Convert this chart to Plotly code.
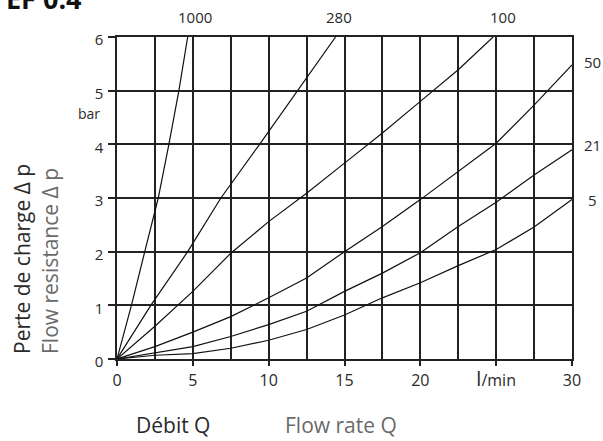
import plotly.graph_objects as go

# ---- data ----
series_names = ["1000", "280", "100", "50", "21", "5"]

q_1000 = [0, 0.95, 1.83, 2.72, 3.42, 4.08, 4.66]
dp_1000 = [0, 1, 2, 3, 4, 5, 6]

q_280 = [0, 2.23, 4.66, 6.85, 9.4, 11.9, 14.41]
dp_280 = [0, 1, 2, 3, 4, 5, 6]

q_100 = [0, 2.5, 5, 7.5, 10, 12.5, 15, 17.5, 20, 22.5, 24.8]
dp_100 = [0, 0.61, 1.26, 1.97, 2.56, 3.09, 3.65, 4.21, 4.80, 5.39, 6.0]

q_grid = [0, 2.5, 5, 7.5, 10, 12.5, 15, 17.5, 20, 22.5, 25, 27.5, 30]
dp_50 = [0, 0.23, 0.50, 0.79, 1.14, 1.51, 2.00, 2.47, 2.97, 3.49, 4.02, 4.73, 5.48]
dp_21 = [0, 0.11, 0.23, 0.42, 0.64, 0.89, 1.26, 1.60, 1.98, 2.47, 2.92, 3.43, 3.90]
dp_5 = [0, 0.07, 0.10, 0.20, 0.35, 0.55, 0.82, 1.14, 1.42, 1.74, 2.04, 2.46, 2.97]

x_tickvals = [0, 5, 10, 15, 20, 25, 30]
x_ticktext = ["0", "5", "10", "15", "20",
              "<span style='font-size:20px'>l</span>/min", "30"]
y_tickvals = [0, 1, 2, 3, 4, 5, 6]

title_text = "EF 0.4"
ytitle_fr = "Perte de charge Δ p"
ytitle_en = "Flow resistance Δ p"
xtitle_fr = "Débit Q"
xtitle_en = "Flow rate Q"
unit_y = "bar"

# ---- figure ----
W, H = 603, 441
ML, MR, MT, MB = 117, 31, 37, 82
PW, PH = W - ML - MR, H - MT - MB
FONT = "Open Sans"
DARK = "#2a2a2a"
GREY = "#6a6a6a"


def px_x(px):
    return (px - ML) / PW


def px_y(py):
    return (H - MB - py) / PH


curves = [
    (q_1000, dp_1000),
    (q_280, dp_280),
    (q_100, dp_100),
    (q_grid, dp_50),
    (q_grid, dp_21),
    (q_grid, dp_5),
]

fig = go.Figure()
for name, (qq, dd) in zip(series_names, curves):
    fig.add_trace(go.Scatter(x=qq, y=dd, mode="lines", name=name,
                             line=dict(color="#111111", width=1.2),
                             showlegend=False))

# curve labels: top ones for curves ending at dp=6, right ones for curves ending at Q=30
top_dx = {"1000": 0.5, "280": 0.2, "100": 0.67}
right_dy = {"50": 0.05, "21": 0.08, "5": 0.0}
annos = []
for name, (qq, dd) in zip(series_names, curves):
    if dd[-1] >= 6:
        annos.append(dict(x=qq[-1] + top_dx[name], y=px_y(17), xref="x", yref="paper",
                          xanchor="center", yanchor="middle",
                          text=name, showarrow=False,
                          font=dict(family=FONT, size=15, color=DARK)))
    else:
        annos.append(dict(x=px_x(592), y=dd[-1] + right_dy[name],
                          xref="paper", yref="y", xanchor="center", yanchor="middle",
                          text=name, showarrow=False,
                          font=dict(family=FONT, size=15, color=DARK)))

annos += [
    dict(x=px_x(4), y=px_y(19), xref="paper", yref="paper", xanchor="left", yanchor="bottom",
         text="<b>" + title_text + "</b>", showarrow=False,
         font=dict(family=FONT, size=27, color="#111111")),
    dict(x=px_x(89), y=px_y(113), xref="paper", yref="paper", xanchor="center", yanchor="middle",
         text=unit_y, showarrow=False, font=dict(family=FONT, size=14, color=DARK)),
    dict(x=px_x(22), y=px_y(259), xref="paper", yref="paper", xanchor="center", yanchor="middle",
         textangle=-90,
         text=ytitle_fr, showarrow=False, font=dict(family=FONT, size=21, color=DARK)),
    dict(x=px_x(50), y=px_y(261), xref="paper", yref="paper", xanchor="center", yanchor="middle",
         textangle=-90,
         text=ytitle_en, showarrow=False, font=dict(family=FONT, size=21, color=GREY)),
    dict(x=px_x(173), y=px_y(425), xref="paper", yref="paper", xanchor="center", yanchor="middle",
         text=xtitle_fr, showarrow=False, font=dict(family=FONT, size=21, color=DARK)),
    dict(x=px_x(341), y=px_y(425), xref="paper", yref="paper", xanchor="center", yanchor="middle",
         text=xtitle_en, showarrow=False, font=dict(family=FONT, size=21, color=GREY)),
]

fig.update_layout(
    width=W, height=H,
    margin=dict(l=ML, r=MR, t=MT, b=MB, pad=0),
    paper_bgcolor="white", plot_bgcolor="white",
    font=dict(family=FONT, size=15, color=DARK),
    annotations=annos,
    xaxis=dict(range=[0, 30], tickvals=x_tickvals, ticktext=x_ticktext,
               showgrid=True, gridcolor="#222222", gridwidth=1.5,
               minor=dict(dtick=2.5, showgrid=True, gridcolor="#222222", gridwidth=1.5),
               ticks="outside", ticklen=5, tickcolor="#222222", tickwidth=1.5,
               showline=True, linecolor="#222222", linewidth=1.5, mirror=True,
               zeroline=False, fixedrange=True, ticklabelstandoff=1,
               tickfont=dict(family=FONT, size=16, color=DARK)),
    yaxis=dict(range=[0, 6], tickvals=y_tickvals,
               showgrid=True, gridcolor="#222222", gridwidth=1.5,
               ticks="outside", ticklen=7, tickcolor="#222222", tickwidth=1.5,
               showline=True, linecolor="#222222", linewidth=1.5, mirror=True,
               zeroline=False, fixedrange=True, ticklabelstandoff=2, ticklabelshift=3,
               tickfont=dict(family=FONT, size=15, color=DARK)),
)

fig.write_html("out.html", config={"displayModeBar": False},
               post_script="document.body.style.margin='0';")
